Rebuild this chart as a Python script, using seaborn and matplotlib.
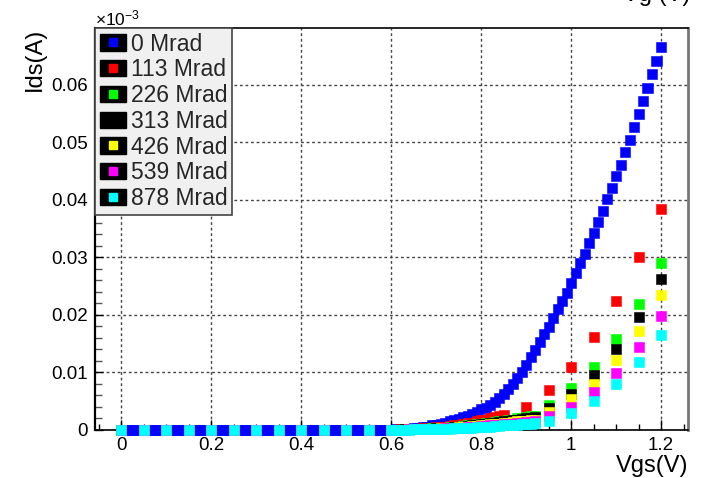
import numpy as np
import pandas as pd
import matplotlib
matplotlib.use("Agg")
import matplotlib.pyplot as plt
import seaborn as sns
from matplotlib.lines import Line2D
from matplotlib.patches import Patch
from matplotlib.legend_handler import HandlerTuple
from matplotlib.ticker import MultipleLocator

# ---------------- data ----------------
doses = ["0 Mrad", "113 Mrad", "226 Mrad", "313 Mrad", "426 Mrad", "539 Mrad", "878 Mrad"]
colors = ["#0000ff", "#ff0000", "#00ff00", "#000000", "#ffff00", "#ff00ff", "#00ffff"]

# 0 Mrad: fine grid 0.00 .. 1.20 step 0.01
vgs_fine = np.round(np.arange(0.0, 1.2001, 0.01), 2)
ids_0 = [0.0] * 60 + [
    0.0000, 0.0001, 0.0001, 0.0002, 0.0002, 0.0003, 0.0004, 0.0005, 0.0006, 0.0008,
    0.0009, 0.0011, 0.0013, 0.0015, 0.0017, 0.0019, 0.0022, 0.0025, 0.0028, 0.0032,
    0.0036, 0.0039, 0.0043, 0.0049, 0.0056, 0.0063, 0.0071, 0.0080, 0.0090, 0.0101,
    0.0113, 0.0127, 0.0139, 0.0153, 0.0167, 0.0179, 0.0195, 0.0210, 0.0224, 0.0238,
    0.0256, 0.0273, 0.0290, 0.0306, 0.0325, 0.0343, 0.0362, 0.0381, 0.0402, 0.0421,
    0.0442, 0.0461, 0.0483, 0.0504, 0.0527, 0.0550, 0.0572, 0.0595, 0.0619, 0.0642,
    0.0666]

# irradiated samples: coarse below 0.6, fine in the knee, coarse above
vgs_low = np.round(np.arange(0.0, 0.5501, 0.05), 2)
vgs_knee_red = np.round(np.arange(0.60, 0.8501, 0.01), 2)
vgs_high_red = [0.90, 0.95, 1.00, 1.05, 1.10, 1.15, 1.20]
vgs_knee = np.round(np.arange(0.60, 0.9201, 0.01), 2)
vgs_high = [0.95, 1.00, 1.05, 1.10, 1.15, 1.20]

ids_113_low = [0.0] * 12
ids_113_knee = [0.0000, 0.0000, 0.0001, 0.0001, 0.0001, 0.0002, 0.0002, 0.0003, 0.0003, 0.0004,
                0.0005, 0.0005, 0.0006, 0.0007, 0.0008, 0.0009, 0.0010, 0.0012, 0.0013, 0.0015,
                0.0017, 0.0018, 0.0020, 0.0022, 0.0024, 0.0026]
ids_113_high = [0.0040, 0.0070, 0.0110, 0.0162, 0.0224, 0.0300, 0.0384]

ids_226_knee = [0.0000, 0.0000, 0.0000, 0.0001, 0.0001, 0.0001, 0.0001, 0.0002, 0.0002, 0.0003,
                0.0003, 0.0004, 0.0004, 0.0005, 0.0006, 0.0006, 0.0007, 0.0008, 0.0009, 0.0010,
                0.0011, 0.0012, 0.0013, 0.0014, 0.0015, 0.0016, 0.0017, 0.0018, 0.0020, 0.0021,
                0.0022, 0.0024, 0.0025]
ids_226_high = [0.0044, 0.0073, 0.0110, 0.0158, 0.0219, 0.0290]

ids_313_knee = [0.0000, 0.0000, 0.0000, 0.0001, 0.0001, 0.0001, 0.0001, 0.0002, 0.0002, 0.0002,
                0.0003, 0.0003, 0.0004, 0.0004, 0.0005, 0.0006, 0.0006, 0.0007, 0.0008, 0.0009,
                0.0010, 0.0011, 0.0012, 0.0013, 0.0014, 0.0015, 0.0016, 0.0017, 0.0018, 0.0019,
                0.0020, 0.0021, 0.0022]
ids_313_high = [0.0039, 0.0063, 0.0096, 0.0141, 0.0197, 0.0263]

ids_426_knee = [0.0000, 0.0000, 0.0000, 0.0000, 0.0001, 0.0001, 0.0001, 0.0001, 0.0002, 0.0002,
                0.0002, 0.0003, 0.0003, 0.0004, 0.0004, 0.0005, 0.0005, 0.0006, 0.0007, 0.0007,
                0.0008, 0.0009, 0.0010, 0.0010, 0.0011, 0.0012, 0.0013, 0.0014, 0.0015, 0.0015,
                0.0016, 0.0017, 0.0018]
ids_426_high = [0.0032, 0.0054, 0.0080, 0.0122, 0.0172, 0.0235]

ids_539_knee = [0.0000, 0.0000, 0.0000, 0.0000, 0.0001, 0.0001, 0.0001, 0.0001, 0.0001, 0.0002,
                0.0002, 0.0002, 0.0003, 0.0003, 0.0003, 0.0004, 0.0004, 0.0005, 0.0005, 0.0006,
                0.0007, 0.0007, 0.0008, 0.0009, 0.0009, 0.0010, 0.0011, 0.0011, 0.0012, 0.0013,
                0.0014, 0.0014, 0.0015]
ids_539_high = [0.0024, 0.0040, 0.0066, 0.0099, 0.0144, 0.0198]

ids_878_knee = [0.0000, 0.0000, 0.0000, 0.0000, 0.0000, 0.0001, 0.0001, 0.0001, 0.0001, 0.0001,
                0.0002, 0.0002, 0.0002, 0.0002, 0.0003, 0.0003, 0.0003, 0.0004, 0.0004, 0.0005,
                0.0005, 0.0006, 0.0006, 0.0007, 0.0007, 0.0008, 0.0008, 0.0009, 0.0009, 0.0010,
                0.0011, 0.0011, 0.0012]
ids_878_high = [0.0016, 0.0030, 0.0050, 0.0080, 0.0118, 0.0165]

x_ticks = [0, 0.2, 0.4, 0.6, 0.8, 1.0, 1.2]
x_tick_labels = ["0", "0.2", "0.4", "0.6", "0.8", "1", "1.2"]
y_ticks = [0, 0.01, 0.02, 0.03, 0.04, 0.05, 0.06]
y_tick_labels = ["0", "0.01", "0.02", "0.03", "0.04", "0.05", "0.06"]

# ---------------- build long table ----------------
frames = [pd.DataFrame({"Vgs": vgs_fine, "Ids": ids_0, "dose": doses[0]})]
frames.append(pd.DataFrame({"Vgs": np.concatenate([vgs_low, vgs_knee_red, vgs_high_red]),
                            "Ids": ids_113_low + ids_113_knee + ids_113_high, "dose": doses[1]}))
for d, knee, high in [(doses[2], ids_226_knee, ids_226_high),
                      (doses[3], ids_313_knee, ids_313_high),
                      (doses[4], ids_426_knee, ids_426_high),
                      (doses[5], ids_539_knee, ids_539_high),
                      (doses[6], ids_878_knee, ids_878_high)]:
    frames.append(pd.DataFrame({"Vgs": np.concatenate([vgs_low, vgs_knee, vgs_high]),
                                "Ids": [0.0] * len(vgs_low) + knee + high, "dose": d}))
df = pd.concat(frames, ignore_index=True)

# ---------------- style ----------------
sns.set_theme(style="white")
plt.rcParams["font.family"] = ["Liberation Sans", "DejaVu Sans"]
plt.rcParams["mathtext.fontset"] = "custom"
plt.rcParams["mathtext.rm"] = "Liberation Sans"
plt.rcParams["mathtext.it"] = "Liberation Sans"

W, H = 702, 478
fig = plt.figure(figsize=(W / 100, H / 100), dpi=100)
fig.patch.set_facecolor("white")
L, R, T, B = 95, 688, 28, 430
ax = fig.add_axes([L / W, 1 - B / H, (R - L) / W, (B - T) / H])
ax.set_facecolor("white")

sns.scatterplot(data=df, x="Vgs", y="Ids", hue="dose", hue_order=doses,
                palette=colors, marker="s", s=52, linewidth=0.4,
                edgecolor=None, legend=False, ax=ax, clip_on=False, zorder=3)
coll = ax.collections[-1]
coll.set_edgecolors(coll.get_facecolors())

ax.set_xlim(-0.058, 1.26)
ax.set_ylim(0, 0.0699)

ax.set_xticks(x_ticks)
ax.set_xticklabels(x_tick_labels, fontsize=13.5)
ax.set_yticks(y_ticks)
ax.set_yticklabels(y_tick_labels, fontsize=13.5)
ax.xaxis.set_minor_locator(MultipleLocator(0.05))
ax.yaxis.set_minor_locator(MultipleLocator(0.002))
ax.tick_params(axis="x", which="major", direction="in", length=7.5, width=1,
               color="black", labelcolor="black", bottom=True, top=False, pad=5)
ax.tick_params(axis="x", which="minor", direction="in", length=4.5, width=1,
               color="black", bottom=True, top=False)
ax.tick_params(axis="y", which="major", direction="in", length=5.5, width=1,
               color="black", labelcolor="black", left=True, right=False, pad=5)
ax.tick_params(axis="y", which="minor", direction="in", length=5, width=1,
               color="#555555", left=True, right=False)

ax.grid(True, which="major", color="#444444", linestyle=(0, (2, 2)), linewidth=1)
ax.set_axisbelow(True)

for side in ["bottom", "top"]:
    ax.spines[side].set_color("black")
    ax.spines[side].set_linewidth(1.2)
ax.spines["left"].set_color("black")
ax.spines["left"].set_linewidth(1.6)
ax.spines["right"].set_color("#777777")
ax.spines["right"].set_linewidth(2)

ax.set_xlabel("")
ax.set_ylabel("")
fig.text(R / W, 1 - 472 / H, "Vgs(V)", ha="right", va="baseline", fontsize=17, color="black")
fig.text(46 / W, 1 - T / H, "Ids(A)", ha="right", va="top", rotation=90, fontsize=17, color="black")
fig.text(L / W, 1 - 25 / H, r"×10$^{-3}$", ha="left", va="baseline", fontsize=12.5, color="black")
fig.text(690 / W, 1 - 1 / H, "Vg (V)", ha="right", va="baseline", fontsize=17, color="black")

# ---------------- legend ----------------
handles = []
for c in colors:
    box = Patch(facecolor="black", edgecolor="black")
    mk = Line2D([], [], linestyle="none", marker="s", markersize=6,
                markerfacecolor=c, markeredgecolor=c)
    handles.append((box, mk))
leg = ax.legend(handles, doses, handler_map={tuple: HandlerTuple(ndivide=1, pad=0)},
                loc="upper left", bbox_to_anchor=(0, 1), borderaxespad=0,
                fontsize=16.5, frameon=True, fancybox=False, framealpha=1,
                facecolor="#f0f0f0", edgecolor="#444444",
                handlelength=1.15, handleheight=0.72, handletextpad=0.2,
                labelspacing=0.12, borderpad=0.2)
leg.get_frame().set_linewidth(1.2)
leg.set_zorder(10)

fig.savefig("out.png", dpi=100, facecolor="white")
